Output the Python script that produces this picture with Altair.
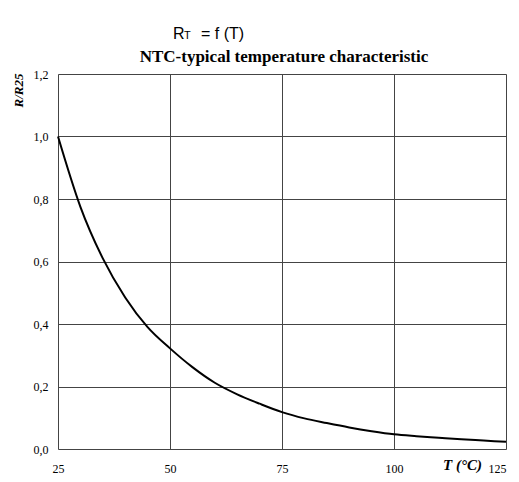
import altair as alt
import pandas as pd

# Temperature (°C) and relative resistance R/R25
temps = [25, 30, 35, 40, 45, 50, 55, 60, 65, 70, 75, 80, 85, 90, 95, 100, 105, 110, 115, 120, 125]
ratio = [1.0, 0.775, 0.61, 0.485, 0.39, 0.322, 0.262, 0.212, 0.175, 0.145, 0.118, 0.098, 0.083, 0.069, 0.057, 0.047, 0.041, 0.036, 0.031, 0.027, 0.023]

x_ticks = [25, 50, 75, 100, 125]
y_ticks = [0.0, 0.2, 0.4, 0.6, 0.8, 1.0, 1.2]

title_main = "NTC-typical temperature characteristic"
x_title = "T (°C)"
y_title = "R/R25"

df = pd.DataFrame({"T": temps, "R": ratio})

W, H = 448, 375
SERIF = "Liberation Serif"
SANS = "Liberation Sans"

x_enc = alt.X("T:Q", scale=alt.Scale(domain=[25, 125], nice=False, zero=False),
              axis=alt.Axis(values=x_ticks, title=x_title, grid=True, gridColor="#444444", gridWidth=1,
                            ticks=False, domain=False, labelFont=SERIF, labelFontSize=12, labelColor="black",
                            labelPadding=14, labelFlush=False,
                            labelAlign={"condition": {"test": "datum.value >= 125", "value": "right"},
                                        "value": "center"},
                            titleFont=SERIF, titleFontSize=15, titleFontWeight="bold", titleFontStyle="italic",
                            titleColor="black", titleX=W - 44, titleY=15, titleAlign="center",
                            titleBaseline="middle"))
y_enc = alt.Y("R:Q", scale=alt.Scale(domain=[0, 1.2], nice=False),
              axis=alt.Axis(values=y_ticks, title=y_title, grid=True, gridColor="#444444", gridWidth=1,
                            ticks=False, domain=False, labelFont=SERIF, labelFontSize=12, labelColor="black",
                            labelPadding=10, labelFlush=False,
                            labelExpr="replace(format(datum.value, '.1f'), '.', ',')",
                            titleFont=SERIF, titleFontSize=13, titleFontWeight="bold", titleFontStyle="italic",
                            titleColor="black", titleX=-40, titleY=16, titleAngle=-90, titleAlign="center",
                            titleBaseline="middle"))

line = alt.Chart(df).mark_line(color="black", strokeWidth=2, interpolate="monotone").encode(x=x_enc, y=y_enc)

txt_df = pd.DataFrame({"a": [0]})
r_txt = alt.Chart(txt_df).mark_text(text="R", font=SANS, fontSize=16, align="left", baseline="alphabetic",
                                    color="black").encode(x=alt.value(115), y=alt.value(-35))
t_txt = alt.Chart(txt_df).mark_text(text="T", font=SANS, fontSize=11, align="left", baseline="alphabetic",
                                    color="black").encode(x=alt.value(126), y=alt.value(-35))
f_txt = alt.Chart(txt_df).mark_text(text="= f (T)", font=SANS, fontSize=16, align="left", baseline="alphabetic",
                                    color="black").encode(x=alt.value(143), y=alt.value(-35))
main_txt = alt.Chart(txt_df).mark_text(text=title_main, font=SERIF, fontSize=17, fontWeight="bold",
                                       align="center", baseline="alphabetic",
                                       color="black").encode(x=alt.value(W / 2 + 2), y=alt.value(-12))

chart = alt.layer(line, r_txt, t_txt, f_txt, main_txt).properties(
    width=W, height=H,
    autosize=alt.AutoSizeParams(type="none"),
    padding={"left": 50, "top": 66, "right": 5, "bottom": 25},
).configure_view(stroke="black", strokeWidth=1.5).configure(background="white")

chart.save("out.html", embed_options={"renderer": "svg", "actions": False})
